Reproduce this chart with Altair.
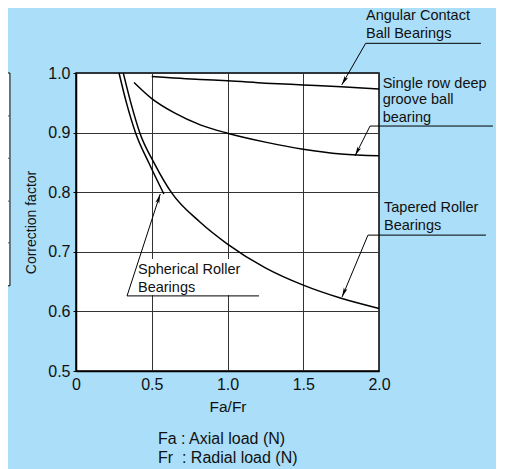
import math
import altair as alt
import pandas as pd

# ---------------- data ----------------
angular_x = [0.50, 0.82, 1.00, 1.25, 1.50, 1.75, 2.00]
angular_y = [0.994, 0.989, 0.987, 0.983, 0.980, 0.977, 0.973]

deep_x = [0.383, 0.50, 0.65, 0.82, 1.00, 1.25, 1.50, 1.75, 2.00]
deep_y = [0.984, 0.957, 0.933, 0.913, 0.899, 0.884, 0.872, 0.864, 0.861]

spherical_x = [0.284, 0.334, 0.394, 0.482, 0.580]
spherical_y = [1.000, 0.949, 0.899, 0.8485, 0.797]

tapered_x = [0.312, 0.363, 0.422, 0.517, 0.634, 0.818, 1.00, 1.25, 1.50, 1.75, 2.00]
tapered_y = [1.000, 0.949, 0.899, 0.8485, 0.798, 0.750, 0.713, 0.673, 0.644, 0.622, 0.605]

x_ticks = [0, 0.5, 1.0, 1.5, 2.0]
y_ticks = [0.5, 0.6, 0.7, 0.8, 0.9, 1.0]

# annotation texts and their anchor points (data units)
label_text = ["Angular Contact", "Ball Bearings",
              "Single row deep", "groove ball", "bearing",
              "Tapered Roller", "Bearings",
              "Spherical Roller", "Bearings"]
label_x = [1.914, 1.914, 2.024, 2.024, 2.024, 2.033, 2.033, 0.409, 0.409]
label_y = [1.0956, 1.0654, 0.982, 0.954, 0.925, 0.773, 0.743, 0.669, 0.639]

note_text = ["Fa : Axial load (N)", "Fr\u00a0\u00a0: Radial load (N)"]
note_x = [0.541, 0.541]
note_y = [0.386, 0.354]

# leader lines (horizontal) and arrows
leader_x = [1.912, 1.941, 1.927, 0.337]
leader_x2 = [2.673, 2.752, 2.706, 1.208]
leader_y = [1.0498, 0.911, 0.728, 0.626]
tip_x = [1.754, 1.842, 1.756, 0.556]
tip_y = [0.980, 0.861, 0.624, 0.797]

W, H = 303, 298
XD, YD = [0, 2], [0.5, 1.0]

curves = pd.concat([
    pd.DataFrame({"x": angular_x, "y": angular_y, "s": "Angular"}),
    pd.DataFrame({"x": deep_x, "y": deep_y, "s": "Deep"}),
    pd.DataFrame({"x": spherical_x, "y": spherical_y, "s": "Spherical"}),
    pd.DataFrame({"x": tapered_x, "y": tapered_y, "s": "Tapered"}),
])

labels = pd.DataFrame({"t": label_text, "x": label_x, "y": label_y})
notes = pd.DataFrame({"t": note_text, "x": note_x, "y": note_y})
leaders = pd.DataFrame({"x": leader_x, "x2": leader_x2, "y": leader_y})
px_x = W / (XD[1] - XD[0])
px_y = H / (YD[1] - YD[0])
angles = []
for sx, sy, tx, ty in zip(leader_x, leader_y, tip_x, tip_y):
    dx = (tx - sx) * px_x
    dy = -(ty - sy) * px_y
    angles.append(math.degrees(math.atan2(dx, -dy)) % 360)
arrows = pd.DataFrame({"x": leader_x, "y": leader_y, "x2": tip_x, "y2": tip_y, "a": angles})

box = pd.DataFrame({"x": [0.34], "x2": [1.208], "y": [0.627], "y2": [0.688]})
side = pd.DataFrame({"x": [-0.7], "x2": [-0.436], "y": [1.0], "y2": [0.643]})
side_lines = pd.DataFrame({"x": [-0.7] * 4, "x2": [-0.436] * 4, "y": [0.928, 0.857, 0.785, 0.715]})

FONT = "Liberation Sans"

xs = alt.Scale(domain=XD, nice=False, zero=False)
ys = alt.Scale(domain=YD, nice=False, zero=False)

xaxis = alt.Axis(values=x_ticks, labelExpr="datum.value == 0 ? '0' : format(datum.value, '.1f')",
                 grid=True, gridColor="#333", gridWidth=1, gridOpacity=1, tickSize=0, labelFontSize=16,
                 labelPadding=5, labelFlush=False, title="Fa/Fr", titleFontSize=15.5,
                 titleFontWeight="normal", titlePadding=7, domainColor="black", domainWidth=1.5,
                 labelColor="#111", titleColor="#111", labelFont=FONT, titleFont=FONT)
yaxis = alt.Axis(values=y_ticks, format=".1f", grid=True, gridColor="#333", gridWidth=1, gridOpacity=1,
                 tickSize=3, tickColor="black", labelFontSize=16, labelPadding=3, labelFlush=False,
                 title="Correction factor", titleFontSize=14, titleFontWeight="normal",
                 titlePadding=9, domainColor="black", domainWidth=1.5,
                 labelColor="#111", titleColor="#111", labelFont=FONT, titleFont=FONT)

X = alt.X("x:Q", scale=xs, axis=xaxis)
Y = alt.Y("y:Q", scale=ys, axis=yaxis)

base_curves = alt.Chart(curves).mark_line(color="black", strokeWidth=1.5, interpolate="monotone").encode(
    x=X, y=Y, detail="s:N",
)

side_rect = alt.Chart(side).mark_rect(fill="white", stroke="black", strokeWidth=1).encode(
    x=X, x2="x2:Q", y=Y, y2="y2:Q")
side_rules = alt.Chart(side_lines).mark_rule(color="#555", strokeWidth=1).encode(
    x=X, x2="x2:Q", y=Y)

white_box = alt.Chart(box).mark_rect(fill="white").encode(x=X, x2="x2:Q", y=Y, y2="y2:Q")

leader_rules = alt.Chart(leaders).mark_rule(color="black", strokeWidth=1).encode(
    x=X, x2="x2:Q", y=Y)
arrow_rules = alt.Chart(arrows).mark_rule(color="black", strokeWidth=1).encode(
    x=X, x2="x2:Q", y=Y, y2="y2:Q")
heads = alt.Chart(arrows).mark_point(
    shape="M0,0L-0.42,2L0,1.55L0.42,2Z", filled=True, color="black", size=90, opacity=1
).encode(x=alt.X("x2:Q", scale=xs, axis=xaxis), y=alt.Y("y2:Q", scale=ys, axis=yaxis),
         angle=alt.Angle("a:Q", scale=None))

texts = alt.Chart(labels).mark_text(align="left", baseline="middle", fontSize=14.5,
                                     font=FONT, color="#111").encode(
    x=X, y=Y, text="t:N")
note_texts = alt.Chart(notes).mark_text(align="left", baseline="middle", fontSize=16,
                                         font=FONT, color="#111").encode(
    x=X, y=Y, text="t:N")

chart = alt.layer(
    white_box, base_curves, side_rect, side_rules, leader_rules, arrow_rules, heads, texts, note_texts
).properties(
    width=W, height=H,
    autosize=alt.AutoSizeParams(type="none"),
    padding={"left": 68, "top": 65, "right": 117, "bottom": 98},
    background="#abdef8",
).configure_view(fill="white", stroke="black", strokeWidth=1.5)

chart.save("out.html", embed_options={"renderer": "svg", "actions": False})
